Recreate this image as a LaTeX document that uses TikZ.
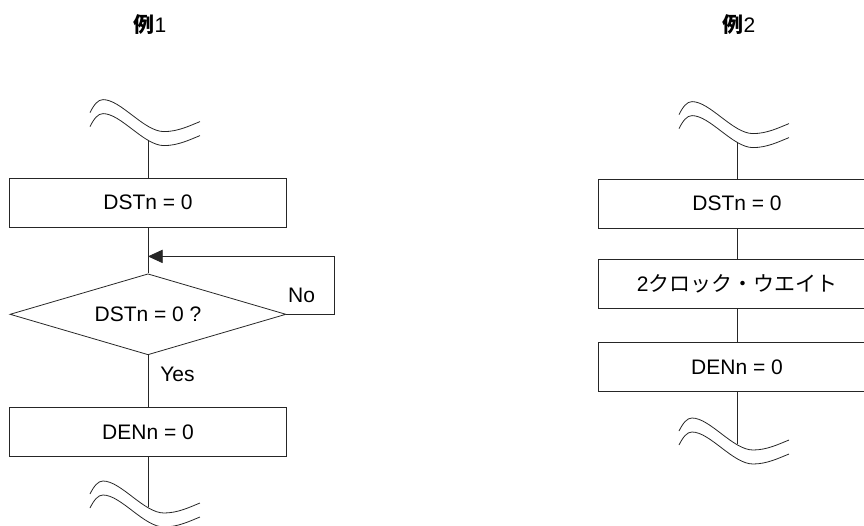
\documentclass[tikz,border=0pt]{standalone}
\usepackage{fontspec}
\setmainfont{Liberation Sans}
\newfontfamily\jpfont{Noto Sans CJK JP}
\newcommand{\figfont}{\fontsize{15.75}{18}\selectfont}
\usetikzlibrary{shapes.geometric, arrows.meta, positioning}

\begin{document}
\begin{tikzpicture}[
    x=0.75pt, y=-0.75pt,
    line width=0.6pt, draw=black!85,
    stepbox/.style={rectangle, draw, minimum width=207.75pt, minimum height=36.75pt, align=center, font=\figfont},
    decision/.style={diamond, draw, aspect=3.4, minimum width=207pt, minimum height=60.75pt, inner sep=0pt, font=\figfont},
    arr/.style={-{Triangle[length=11pt, width=10pt]}},
    lbl/.style={inner sep=0pt, font=\figfont},
    title/.style={font=\figfont},
    pics/wavebreak/.style={code={
        \foreach \dy in {0,-14} {
            \draw[shift={(0,\dy)}] (-58,-13) .. controls (-54,-21) and (-50,-26) .. (-45,-26)
                .. controls (-27,-26) and (-4,6) .. (16,6)
                .. controls (30,6) and (42,0) .. (52,-4);
        }
    }}
]
\useasboundingbox (0,0) rectangle (864,525);

% Example 1 (left column)
\node[title] (t1) at (150,25) {{\jpfont\bfseries 例}1};
\node[stepbox] (dst1) at (148,202.5) {DSTn = 0};
\node[decision, below=34.5pt of dst1] (chk) {\raisebox{-2.5pt}{DSTn = 0 ?}};
\node[stepbox, below=39pt of chk] (den1) {DENn = 0};
\coordinate[above=28.5pt of dst1] (brk1);
\coordinate[below=37.5pt of den1] (brk2);
\coordinate[below=21.75pt of dst1.south] (loopin);

\pic at (brk1) {wavebreak};
\pic at ([yshift=-10.5pt]brk2) {wavebreak};

\draw (brk1) -- (dst1);
\draw (dst1) -- (chk);
\draw (chk) -- (den1) node[lbl, pos=0.37, right=9pt] {Yes};
\draw (den1) -- (brk2);
\draw[arr] (chk.east) -- ++(48,0) |- (loopin);
\node[lbl, anchor=south west] (no) at ([xshift=1pt, yshift=8.25pt]chk.east) {No};

% Example 2 (right column)
\node[title] (t2) at (739,25) {{\jpfont\bfseries 例}2};
\node[stepbox] (dst2) at (737,203.5) {DSTn = 0};
\node[stepbox, below=23.25pt of dst2] (wait) {2{\jpfont クロック・ウエイト}};
\node[stepbox, below=24.75pt of wait] (den2) {DENn = 0};
\coordinate[above=27.75pt of dst2] (brk3);
\coordinate[below=39pt of den2] (brk4);

\pic at (brk3) {wavebreak};
\pic at ([yshift=-10.5pt]brk4) {wavebreak};

\draw (brk3) -- (dst2);
\draw (dst2) -- (wait);
\draw (wait) -- (den2);
\draw (den2) -- (brk4);

\end{tikzpicture}
\end{document}
